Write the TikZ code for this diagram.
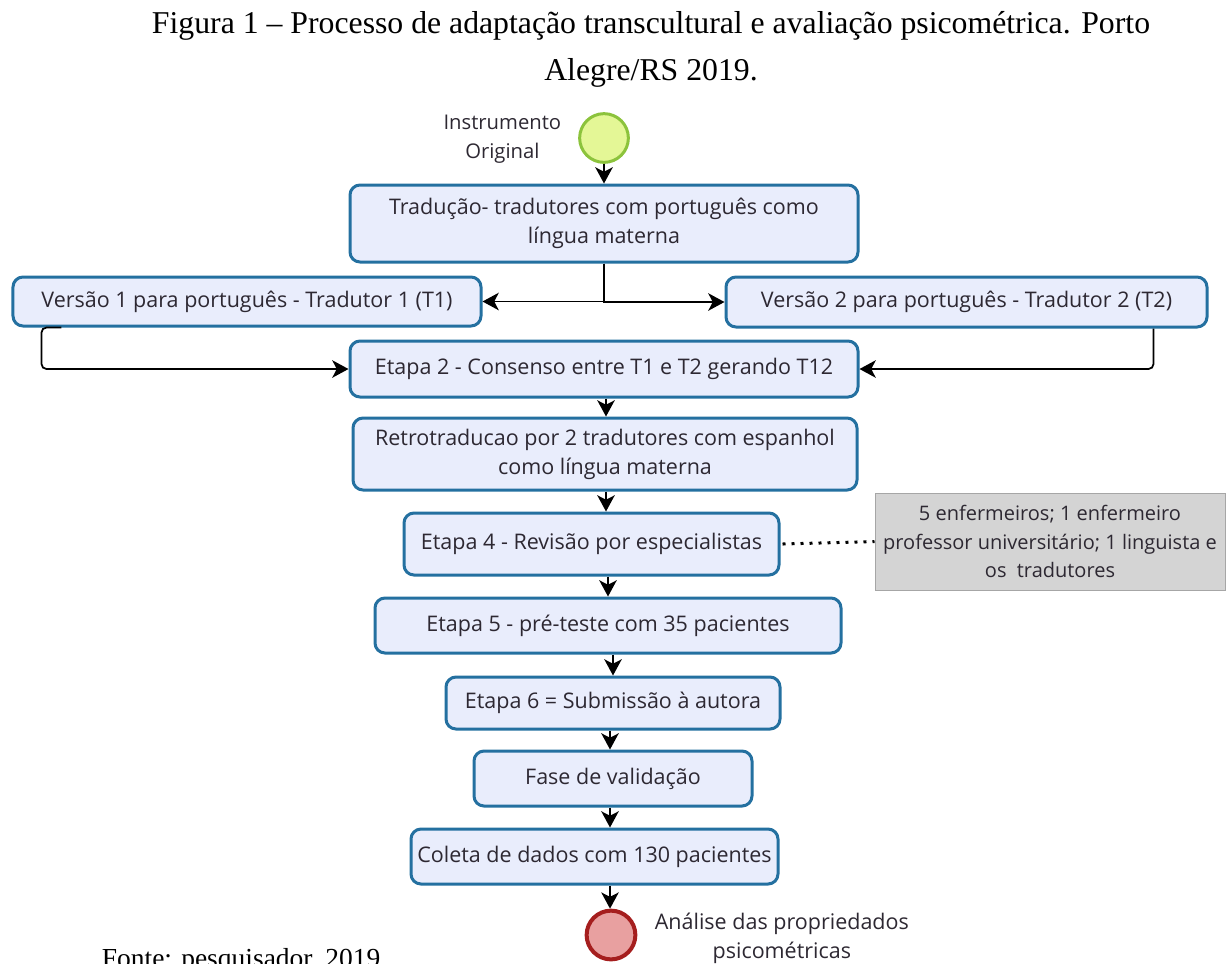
\documentclass[tikz,border=0pt]{standalone}
\usepackage{fontspec}
\setmainfont{Liberation Serif}
\newfontfamily\boxfont{Open Sans}
\usetikzlibrary{arrows.meta}
\definecolor{stagefill}{RGB}{233,237,252}
\definecolor{stageline}{RGB}{36,112,160}
\definecolor{startfill}{RGB}{228,247,150}
\definecolor{startline}{RGB}{140,195,60}
\definecolor{endfill}{RGB}{232,160,160}
\definecolor{endline}{RGB}{165,30,30}
\definecolor{inktext}{RGB}{45,40,50}

\begin{document}
\begin{tikzpicture}[
  x=0.4pt, y=-0.4pt,
  every node/.style={font=\boxfont\fontsize{8.6}{11.6}\selectfont, text=inktext},
  stage/.style={draw=stageline, fill=stagefill, line width=1.2pt,
    rounded corners=4pt, inner sep=0pt, align=center},
  startev/.style={circle, draw=startline, fill=startfill, line width=1.2pt,
    minimum size=19.5pt, inner sep=0pt},
  endev/.style={circle, draw=endline, fill=endfill, line width=1.6pt,
    minimum size=19.5pt, inner sep=0pt},
  remark/.style={draw=gray!70, fill=gray!34, inner sep=0pt, align=center,
    font=\boxfont\fontsize{8}{11.4}\selectfont},
  caption/.style={font=\fontsize{12.7}{15}\selectfont, text=black, anchor=base},
  flow/.style={draw=black, line width=0.7pt,
    -{Stealth[length=6.5pt,width=7pt,inset=1.8pt]}}
]
  \useasboundingbox (0,0) rectangle (1226,963);

  \node[caption] (title) at (651,33)
    {Figura 1 – Processo de adaptação transcultural e avaliação psicométrica. Porto};
  \node[caption] (title2) at (651,80) {Alegre/RS 2019.};

  \node[startev] (start) at (604,138) {};
  \node[anchor=east, align=center, font=\boxfont\fontsize{8.1}{11.6}\selectfont]
    (startlbl) at (570,139) {Instrumento\\Original};

  \node[stage, minimum width=203.2pt, minimum height=30.8pt] (trad) at (604,223.5)
    {Tradução- tradutores com português como\\língua materna};
  \node[stage, minimum width=187.2pt, minimum height=19.6pt] (t1) at (247,301.5)
    {Versão 1 para português - Tradutor 1 (T1)};
  \node[stage, minimum width=192.4pt, minimum height=20pt] (t2) at (966.5,302)
    {Versão 2 para português - Tradutor 2 (T2)};
  \node[stage, minimum width=203.2pt, minimum height=22.4pt] (e2) at (604,369)
    {Etapa 2 - Consenso entre T1 e T2 gerando T12};
  \node[stage, minimum width=201.6pt, minimum height=28.8pt] (retro) at (605,454)
    {Retrotraducao por 2 tradutores com espanhol\\como língua materna};
  \node[stage, minimum width=150pt, minimum height=24.8pt] (e4) at (591.5,544)
    {Etapa 4 - Revisão por especialistas};
  \node[remark, minimum width=140pt, minimum height=38.8pt] (note) at (1050,541.5)
    {5 enfermeiros; 1 enfermeiro\\professor universitário; 1 linguista e\\os\ \ tradutores};
  \node[stage, minimum width=186.4pt, minimum height=22pt] (e5) at (608,625.5)
    {Etapa 5 - pré-teste com 35 pacientes};
  \node[stage, minimum width=133.6pt, minimum height=20.8pt] (e6) at (613,703)
    {Etapa 6 = Submissão à autora};
  \node[stage, minimum width=111.2pt, minimum height=22pt] (fase) at (613,778.5)
    {Fase de validação};
  \node[stage, minimum width=146.8pt, minimum height=22pt] (coleta) at (594.5,856.5)
    {Coleta de dados com 130 pacientes};

  \node[endev] (fim) at (611,935) {};
  \node[anchor=west, align=center] (fimlbl) at (646,938)
    {Análise das propriedados\\psicométricas};

  \node[font=\fontsize{11}{13}\selectfont, text=black, anchor=base west] (fonte) at (93,967)
    {Fonte: pesquisador, 2019.};

  \coordinate (spine) at (606,0);
  \coordinate (spinelow) at (610,0);
  \draw[flow] (start.south) -- (start.south |- trad.north);
  \draw[flow] (trad.south -| start) |- (t1.east);
  \draw[flow] (trad.south -| start) |- (t2.west);
  \draw[flow, rounded corners=2pt] ([xshift=20pt]t1.south west) -- ++(-20,0) |- (e2.west);
  \draw[flow, rounded corners=2pt] ([xshift=-22pt]t2.south east) |- (e2.east);
  \draw[flow] (e2.south -| spine) -- (retro.north -| spine);
  \draw[flow] (retro.south -| spine) -- (e4.north -| spine);
  \draw[line width=1.2pt, dash pattern=on 1.2pt off 2.4pt] (e4.east) ++(2,0) -- (note.west);
  \draw[flow] (e4.south -| e5) -- (e5.north);
  \draw[flow] (e5.south -| e6) -- (e6.north);
  \draw[flow] (e6.south -| spinelow) -- (fase.north -| spinelow);
  \draw[flow] (fase.south -| spinelow) -- (coleta.north -| spinelow);
  \draw[flow] (coleta.south -| spinelow) -- (fim.north -| spinelow);
\end{tikzpicture}
\end{document}
